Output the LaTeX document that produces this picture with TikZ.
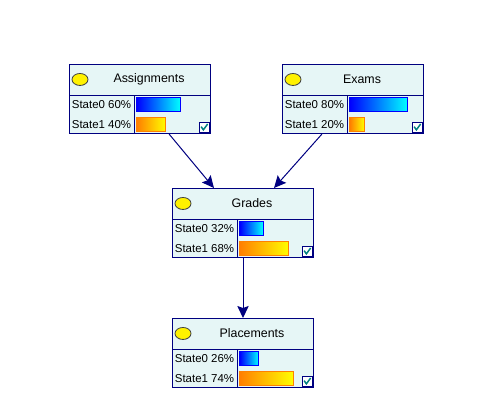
\documentclass[tikz,border=0pt]{standalone}
\usepackage{fontspec}
\setmainfont{Liberation Sans}
\usetikzlibrary{positioning,shapes.geometric,arrows.meta}
\definecolor{netnavy}{RGB}{0,0,128}
\definecolor{netfill}{RGB}{230,246,246}
\definecolor{netorange}{RGB}{255,128,0}
\definecolor{netteal}{RGB}{0,128,128}
\begin{document}
\begin{tikzpicture}[x=0.75pt,y=-0.75pt,
				netnode/.style={rectangle, draw=netnavy, fill=netfill, line width=0.75pt, minimum width=105.75pt, minimum height=51.75pt, anchor=north west, inner sep=0pt},
				titletext/.style={font=\fontsize{9.3}{11}\selectfont, inner sep=0pt},
				statetext/.style={font=\fontsize{8.6}{10}\selectfont, inner sep=0pt},
				dot/.style={ellipse, draw=black!75, fill=yellow, line width=0.6pt, minimum width=12pt, minimum height=9pt, inner sep=0pt},
				barzero/.style={rectangle, draw=blue, left color=blue, right color=cyan, line width=0.75pt, minimum height=10.5pt, anchor=west, inner sep=0pt},
				barone/.style={rectangle, draw=netorange, left color=netorange, right color=yellow, line width=0.75pt, minimum height=10.5pt, anchor=west, inner sep=0pt},
				checkbox/.style={rectangle, draw=netnavy, fill=white, line width=0.75pt, minimum size=7.5pt, anchor=south east, inner sep=0pt},
			]
			\useasboundingbox (0,0) rectangle (503,405);
			\foreach \name/\x/\y/\title/\a/\b in {asg/69/64/Assignments/60/40, exm/282/64/Exams/80/20, grd/172/188/Grades/32/68, plc/172/318/Placements/26/74}{
				\node[netnode] (\name) at (\x,\y) {};
				\draw[netnavy, line width=0.75pt] ([yshift=-23.25pt]\name.north west) -- ([yshift=-23.25pt]\name.north east);
				\draw[netnavy, line width=0.75pt] ([xshift=48.75pt,yshift=-23.25pt]\name.north west) -- ([xshift=48.75pt]\name.south west);
				\node[dot] (\name-dot) at ([xshift=8.25pt,yshift=-11.6pt]\name.north west) {};
				\node[titletext] (\name-title) at ([xshift=6.75pt,yshift=-11.6pt]\name.north) {\title};
				\node[statetext] (\name-s0) at ([xshift=24.4pt,yshift=-30.4pt]\name.north west) {State0 \a\%};
				\node[statetext] (\name-s1) at ([xshift=24.4pt,yshift=-45.4pt]\name.north west) {State1 \b\%};
				\node[barzero, minimum width=0.54pt*\a] (\name-bar0) at ([xshift=50.6pt,yshift=-30.4pt]\name.north west) {};
				\node[barone, minimum width=0.54pt*\b] (\name-bar1) at ([xshift=50.6pt,yshift=-45.4pt]\name.north west) {};
				\node[checkbox] (\name-chk) at ([xshift=-1pt,yshift=1pt]\name.south east) {};
				\draw[netteal, line width=1.1pt] ([xshift=-2.3pt,yshift=0.4pt]\name-chk.center) -- ([xshift=-0.6pt,yshift=-2pt]\name-chk.center) -- ([xshift=2.6pt,yshift=2.4pt]\name-chk.center);
			}
			\begin{scope}[netnavy, line width=0.75pt, -{Stealth[length=9pt, width=8.5pt, inset=1.5pt]}]
			\draw (asg) -- (grd);
			\draw (exm) -- (grd);
			\draw (grd) -- (plc);
			\end{scope}
			\end{tikzpicture}
\end{document}
